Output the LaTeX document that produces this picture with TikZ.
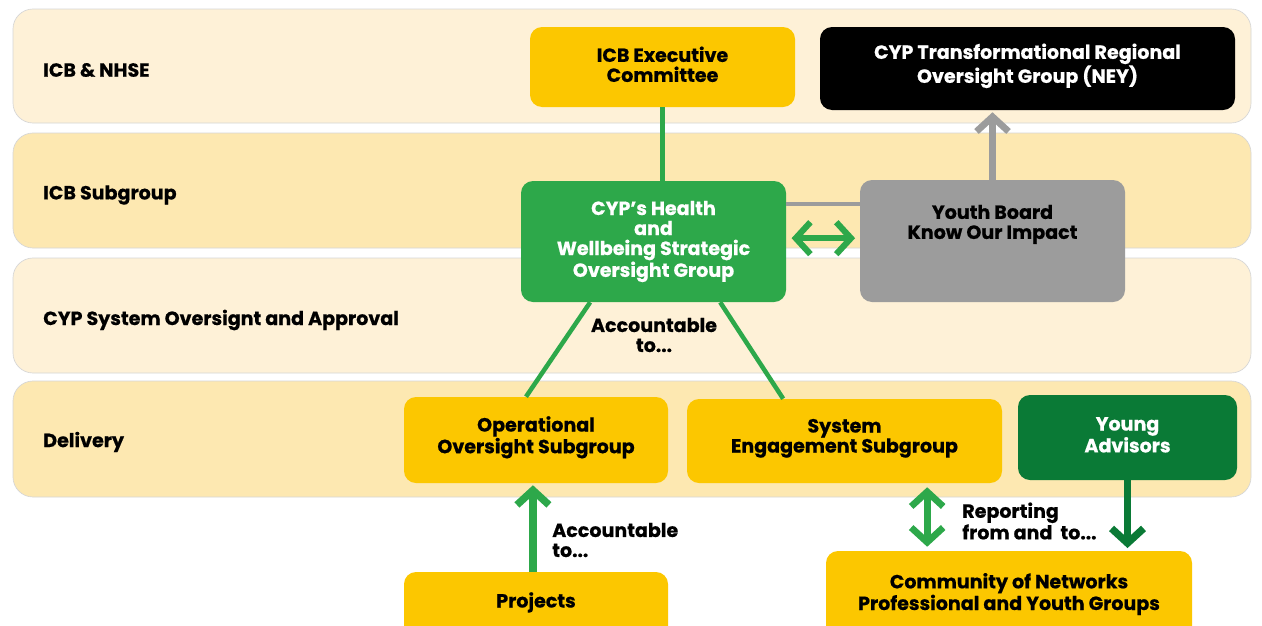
\documentclass[tikz,border=0pt]{standalone}
\usepackage{fontspec}
\setmainfont{Poppins}[BoldFeatures={FakeBold=0.6}]
\usetikzlibrary{arrows.meta,fit}

\definecolor{bandlight}{HTML}{FEF1D7}
\definecolor{banddark}{HTML}{FDE8B1}
\definecolor{gold}{HTML}{FCC700}
\definecolor{midgreen}{HTML}{2DA84A}
\definecolor{deepgreen}{HTML}{0A7A36}
\definecolor{midgray}{HTML}{9C9C9C}

\begin{document}
\begin{tikzpicture}[x=0.75pt,y=-0.75pt,
  band/.style={fill=#1, draw=black!16, line width=0.5pt, rounded corners=15pt, inner sep=0pt},
  tier/.style={anchor=west, inner sep=0pt, font=\bfseries\fontsize{14.3}{15}\selectfont},
  box/.style={fill=#1, rounded corners=9pt, inner sep=0pt},
  note/.style={inner sep=0pt, font=\bfseries\fontsize{14.3}{15}\selectfont},
  boxtext/.style={note, align=center, anchor=center, yshift=2pt},
  gline/.style={draw=midgreen, line width=3.4pt},
  tipg/.style={-{Straight Barb[length=11pt,width=24pt]}},
  dbltip/.style={{Straight Barb[length=11pt,width=24pt]}-{Straight Barb[length=11pt,width=24pt]}}
]
\useasboundingbox (0,0) rectangle (1262,625);
\clip (0,0) rectangle (1262,625);
\fill[white] (0,0) rectangle (1262,625);

% horizontal tiers
\node[band=bandlight, fit={(13,9) (1251,123)}] (b1) {};
\node[band=banddark,  fit={(13,133) (1251,248)}] (b2) {};
\node[band=bandlight, fit={(13,258) (1251,373)}] (b3) {};
\node[band=banddark,  fit={(13,381) (1251,497)}] (b4) {};

\node[tier] (t1) at (43,70)  {ICB \& NHSE};
\node[tier] (t2) at (43,195) {ICB Subgroup};
\node[tier] (t3) at (43,320) {CYP System Oversignt and Approval};
\node[tier] (t4) at (43,442) {Delivery};

% groups
\node[box=gold, fit={(530,27) (795,107)},
  label={[boxtext]center:ICB Executive\\Committee}] (exec) {};
\node[box=black, fit={(820,27) (1235,110)},
  label={[boxtext, text=white]center:CYP Transformational Regional\\Oversight Group (NEY)}] (ney) {};
\node[box=midgreen, fit={(521,181) (786,302)},
  label={[boxtext, text=white, yshift=-2pt]center:CYP’s Health\\and\\Wellbeing Strategic\\Oversight Group}] (cyp) {};
\node[box=midgray, fit={(860,180) (1125,302)},
  label={[boxtext, yshift=-35.5pt]north:Youth Board\\Know Our Impact}] (yb) {};
\node[box=gold, fit={(404,397) (668,483)},
  label={[boxtext]center:Operational\\Oversight Subgroup}] (op) {};
\node[box=gold, fit={(687,399) (1002,483)},
  label={[boxtext]center:System\\Engagement Subgroup}] (se) {};
\node[box=deepgreen, fit={(1018,395) (1237,480)},
  label={[boxtext, text=white]center:Young\\Advisors}] (ya) {};
\node[box=gold, fit={(404,572) (668,640)},
  label={[boxtext, yshift=-25pt]north:Projects}] (proj) {};
\node[box=gold, fit={(826,551) (1192,650)},
  label={[boxtext, yshift=-34.5pt]north:Community of Networks\\Professional and Youth Groups}] (comm) {};

% connectors
\draw[gline] (exec.south) -- (exec.south |- cyp.north);
\draw[draw=midgray, line width=3.4pt] ([yshift=28pt]cyp.east) -- ([yshift=28pt]cyp.east -| yb.west);
\draw[draw=midgreen, line width=4.6pt, dbltip]
  ([xshift=4pt,yshift=2.5pt]cyp.east) -- ([xshift=-3.5pt,yshift=2.5pt]cyp.east -| yb.west);
\draw[draw=midgray, line width=5pt, tipg] (yb.north) -- ([yshift=-1.5pt]yb.north |- ney.south);

\draw[gline] ([xshift=-47.5pt]cyp.south) -- ([xshift=-7.5pt]op.north);
\draw[gline] ([xshift=50pt]cyp.south) -- ([xshift=-46pt]se.north);
\node[note, align=center] (acc1) at (654,335) {Accountable\\to...};

\draw[draw=midgreen, line width=5.5pt, tipg] ([xshift=-2.3pt]proj.north) -- ([xshift=-2.3pt,yshift=-1.5pt]op.south);
\node[note, align=left, anchor=west] (acc2) at (552,540) {Accountable\\to...};

\draw[draw=midgreen, line width=5pt, dbltip]
  ([xshift=62pt,yshift=-3pt]se.south) -- ([xshift=62pt,yshift=3pt]se.south |- comm.north);
\node[note, align=left, anchor=west] (rep) at (962,521) {Reporting\\from and~ to...};

\draw[draw=deepgreen, line width=5.5pt, tipg] (ya.south) -- ([yshift=2pt]ya.south |- comm.north);
\end{tikzpicture}
\end{document}
